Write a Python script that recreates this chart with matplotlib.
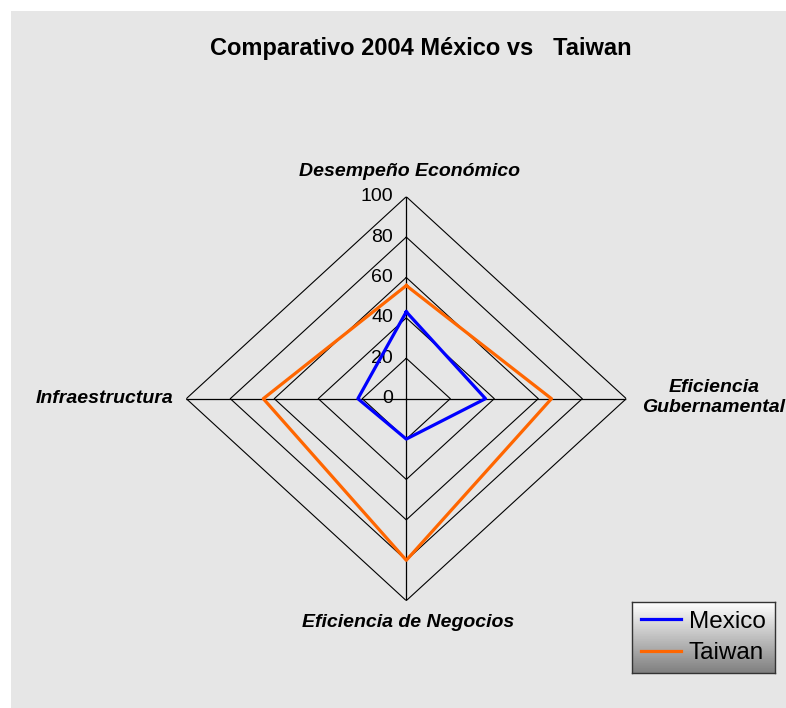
import numpy as np
import matplotlib
matplotlib.use("Agg")
import matplotlib.pyplot as plt
from matplotlib.patches import Rectangle
from matplotlib.lines import Line2D

# data
categories = ["Desempeño Económico", "Eficiencia\nGubernamental",
              "Eficiencia de Negocios", "Infraestructura"]
mexico = [43, 36, 20, 22]
taiwan = [56, 66, 80, 65]
rings = [20, 40, 60, 80, 100]
ring_labels = ["0", "20", "40", "60", "80", "100"]

plt.rcParams['font.family'] = ['Liberation Sans', 'DejaVu Sans']

fig = plt.figure(figsize=(7.86, 7.08), dpi=100)
fig.patch.set_facecolor('white')
# grey backdrop (white strip top/left)
fig.patches.append(Rectangle((11 / 786, 0), 1, (708 - 11) / 708,
                             transform=fig.transFigure, facecolor='#e6e6e6',
                             edgecolor='none', zorder=-10))

ax = fig.add_axes([0.237, 0.1516, 0.5598, 0.5706], projection='polar')
ax.set_aspect('auto')   # diamond is a bit wider than tall
ax.set_facecolor('none')
ax.set_theta_zero_location('N')
ax.set_theta_direction(-1)
ax.set_ylim(0, 100)
ax.grid(False)
ax.spines['polar'].set_visible(False)
ax.set_xticks([])
ax.set_yticks([])

n = len(categories)
theta = np.arange(n) * 2 * np.pi / n
theta_closed = np.append(theta, theta[0])

# diamond grid
for r in rings:
    ax.plot(theta_closed, [r] * (n + 1), color='black', lw=0.8, zorder=1)
for t in theta:
    ax.plot([t, t], [0, 100], color='black', lw=0.9, zorder=1)

# ring labels on the top spoke
for i, lab in enumerate(ring_labels):
    ax.annotate(lab, xy=(0, i * 20), xytext=(-9.5, 0), textcoords='offset points',
                ha='right', va='center', fontsize=14, zorder=2)

ax.plot(theta_closed, mexico + mexico[:1], color='#0000ff', lw=2.3, zorder=3)
ax.plot(theta_closed, taiwan + taiwan[:1], color='#ff6600', lw=2.3, zorder=3)

# category labels
lab_kw = dict(fontsize=14, fontweight='bold', fontstyle='italic')
ax.annotate(categories[0], xy=(0, 100), xytext=(2, 18), textcoords='offset points',
            ha='center', va='center', **lab_kw)
ax.annotate(categories[1], xy=(np.pi / 2, 100), xytext=(63, 1), textcoords='offset points',
            ha='center', va='center', linespacing=1.25, **lab_kw)
ax.annotate(categories[2], xy=(np.pi, 100), xytext=(1, -15.5), textcoords='offset points',
            ha='center', va='center', **lab_kw)
ax.annotate(categories[3], xy=(3 * np.pi / 2, 100), xytext=(-9, 0), textcoords='offset points',
            ha='right', va='center', **lab_kw)

fig.text(0.536, 0.932, "Comparativo 2004 México vs   Taiwan", ha='center', va='center',
         fontsize=17, fontweight='bold')

# legend with gradient box
lax = fig.add_axes([632 / 786, 1 - 673 / 708, 143 / 786, 71 / 708])
grad = np.linspace(1.0, 0.5, 100).reshape(-1, 1)
lax.imshow(grad, aspect='auto', cmap='gray', vmin=0, vmax=1, extent=[0, 1, 0, 1])
lax.set_xticks([])
lax.set_yticks([])
for s in lax.spines.values():
    s.set_color('#333333')
    s.set_linewidth(1.0)
handles = [Line2D([], [], color='#0000ff', lw=2.3), Line2D([], [], color='#ff6600', lw=2.3)]
leg = lax.legend(handles, ["Mexico", "Taiwan"], loc='center', frameon=False,
                 fontsize=17.5, handlelength=1.65, handletextpad=0.3, labelspacing=0.4,
                 borderpad=0.1)

fig.savefig("out.png", dpi=100)
